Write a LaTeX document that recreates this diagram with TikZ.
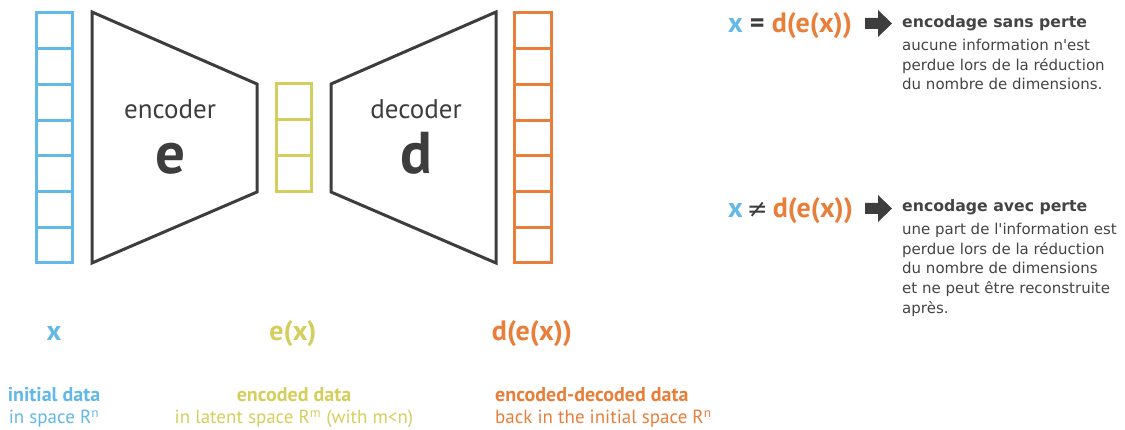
\documentclass[tikz,border=0pt]{standalone}
\usepackage{fontspec}
\setmainfont{PT Sans}
\newfontfamily\dv{DejaVu Sans}
\definecolor{cblue}{HTML}{62B8E6}
\definecolor{cyel}{HTML}{D6CE5C}
\definecolor{corange}{HTML}{E87E3A}
\definecolor{cdark}{HTML}{3D3D3D}
\definecolor{ctext}{HTML}{444444}
\tikzset{
  cell/.style={draw, line width=3pt},
  funnel/.style={draw=cdark, line width=3pt, line join=miter},
  lbl/.style={inner sep=0pt, anchor=base},
  bigsym/.style={lbl, text=cdark, font=\bfseries\fontsize{59}{59}\selectfont},
  modname/.style={lbl, text=cdark, font=\fontsize{27}{27}\selectfont},
  varname/.style={lbl, font=\bfseries\fontsize{28}{28}\selectfont},
  datatitle/.style={lbl, font=\bfseries\fontsize{20}{20}\selectfont},
  datasub/.style={lbl, font=\fontsize{19}{19}\selectfont},
  eqn/.style={lbl, anchor=base west, font=\bfseries\fontsize{28}{28}\selectfont},
  rtitle/.style={inner sep=0pt, anchor=base west, text=ctext, font=\dv\bfseries\fontsize{15.7}{18}\selectfont},
  rbody/.style={inner sep=0pt, anchor=north west, align=left, text=ctext, font=\dv\fontsize{15}{19.7}\selectfont},
  blockarrow/.style={fill=cdark}
}
\begin{document}
\begin{tikzpicture}[x=1pt,y=-1pt]
\useasboundingbox (0,0) rectangle (1125,430);
% input column
\foreach \i in {0,...,6} {
  \draw[cell, draw=cblue] (36,{13+\i*35.714}) rectangle (72,{13+(\i+1)*35.714});
}
% latent column
\foreach \i in {0,...,2} {
  \draw[cell, draw=cyel] (276,{84+\i*36}) rectangle (311,{84+(\i+1)*36});
}
% output column
\foreach \i in {0,...,6} {
  \draw[cell, draw=corange] (514,{13+\i*35.714}) rectangle (551,{13+(\i+1)*35.714});
}
% encoder and decoder
\draw[funnel] (92,12) -- (257,84) -- (257,192) -- (92,263) -- cycle;
\draw[funnel] (331,84) -- (496,12) -- (496,263) -- (331,192) -- cycle;
\node[modname] (encname) at (170,119) {encoder};
\node[bigsym] (esym) at (170,174) {e};
\node[modname] (decname) at (416,119) {decoder};
\node[bigsym] (dsym) at (416,174) {d};
% variable names
\node[varname, text=cblue] (xlab) at (54,341) {x};
\node[varname, text=cyel] (exlab) at (293,341) {e(x)};
\node[varname, text=corange] (dexlab) at (532,341) {d(e(x))};
% data descriptions
\node[datatitle, text=cblue] (t1) at (54,401) {initial data};
\node[datasub, text=cblue] (s1) at (54,424) {in space R\textsuperscript{n}};
\node[datatitle, text=cyel] (t2) at (294,401) {encoded data};
\node[datasub, text=cyel] (s2) at (294,424) {in latent space R\textsuperscript{m} (with m<n)};
\node[datatitle, text=corange, anchor=base west] (t3) at (495,401) {encoded-decoded data};
\node[datasub, text=corange, anchor=base west] (s3) at (495,424) {back in the initial space R\textsuperscript{n}};
% lossless
\node[eqn] (eq1) at (728,33) {\textcolor{cblue}{x} \textcolor{cdark}{=} \textcolor{corange}{d(e(x))}};
\fill[blockarrow] (865,18) -- (878,18) -- (878,10) -- (892,23.5) -- (878,37) -- (878,29) -- (865,29) -- cycle;
\node[rtitle] (ti1) at (902,28) {encodage sans perte};
\node[rbody] (b1) at (902,39) {aucune information n'est\\perdue lors de la réduction\\du nombre de dimensions.};
% lossy
\node[eqn] (eq2) at (728,218) {\textcolor{cblue}{x}\hspace{4pt}\textcolor{cdark}{\dv\mdseries\fontsize{25}{25}\selectfont ≠}\hspace{5pt}\textcolor{corange}{d(e(x))}};
\fill[blockarrow] (865,203) -- (878,203) -- (878,195) -- (892,208.5) -- (878,222) -- (878,214) -- (865,214) -- cycle;
\node[rtitle] (ti2) at (902,212) {encodage avec perte};
\node[rbody] (b2) at (902,223) {une part de l'information est\\perdue lors de la réduction\\du nombre de dimensions\\et ne peut être reconstruite\\après.};
\end{tikzpicture}
\end{document}
